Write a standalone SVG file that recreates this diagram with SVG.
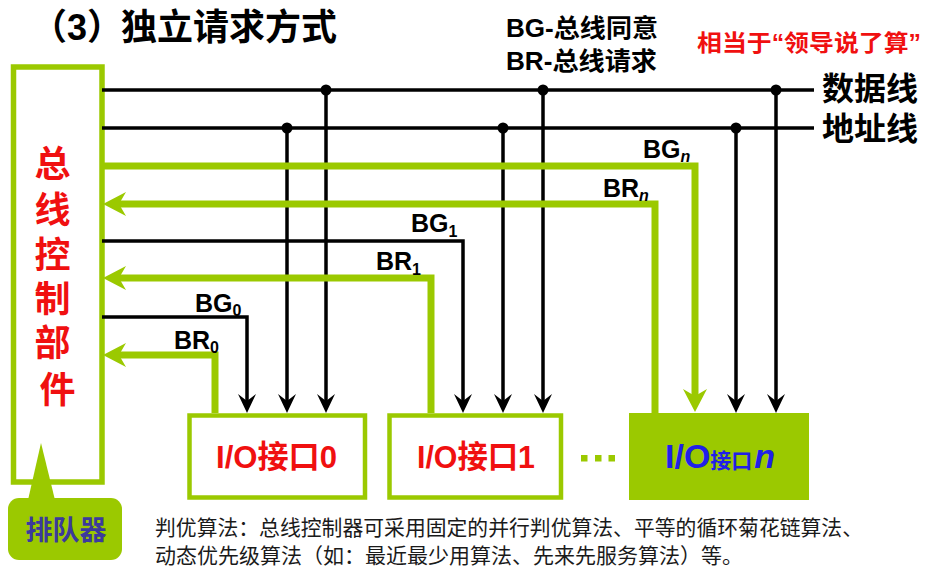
<svg xmlns="http://www.w3.org/2000/svg" width="928" height="577" viewBox="0 0 928 577">
  <style>
    text { font-family: "Liberation Sans", "Noto Sans CJK SC", sans-serif; }
    .b { font-weight: bold; }
    .blk { fill: #000; }
    .red { fill: #f01010; }
    .bus { stroke: #000; stroke-width: 3.5; fill: none; }
    .sig { stroke: #000; stroke-width: 3.5; fill: none; }
    .gsig { stroke: #9bc900; stroke-width: 7; fill: none; stroke-linejoin: miter; }
    .box { fill: #fff; stroke: #9bc900; stroke-width: 4.5; }
    .lbl { font-size: 25px; font-weight: bold; fill: #000; }
    .sub { font-size: 16px; font-weight: bold; }
    .io { font-size: 32px; font-weight: bold; fill: #f01010; }
  </style>
  <defs>
    <marker id="ah" markerUnits="userSpaceOnUse" markerWidth="30" markerHeight="30" viewBox="-15 -15 30 30" refX="0" refY="0" orient="auto">
      <path d="M10,0 L-9,-9 L-2,0 L-9,9 Z" fill="#000"/>
    </marker>
    <marker id="gh" markerUnits="userSpaceOnUse" markerWidth="40" markerHeight="40" viewBox="-20 -20 40 40" refX="0" refY="0" orient="auto">
      <path d="M10,0 L-13,-12 L-6,0 L-13,12 Z" fill="#9bc900"/>
    </marker>
  </defs>

  <!-- heading -->
  <text y="40" class="b" font-size="36" fill="#000"><tspan x="31">（3）</tspan><tspan x="121">独立请求方式</tspan></text>
  <text x="506" y="37" class="b" font-size="25" fill="#000" textLength="152" lengthAdjust="spacingAndGlyphs">BG-总线同意</text>
  <text x="506" y="70" class="b" font-size="25" fill="#000" textLength="151" lengthAdjust="spacingAndGlyphs">BR-总线请求</text>
  <text x="697" y="51" class="b" font-size="23" fill="#f01010" textLength="224" lengthAdjust="spacingAndGlyphs">相当于“领导说了算”</text>

  <!-- bus controller -->
  <g id="controller">
    <rect x="13.5" y="67" width="88.5" height="415" fill="#fff" stroke="#9bc900" stroke-width="5.5"/>
    <text class="b red" font-size="36" text-anchor="middle">
      <tspan x="57.5" y="177">总</tspan>
      <tspan x="57.5" y="223">线</tspan>
      <tspan x="57.5" y="268">控</tspan>
      <tspan x="57.5" y="312">制</tspan>
      <tspan x="57.5" y="356">部</tspan>
      <tspan x="57.5" y="403">件</tspan>
    </text>
  </g>

  <!-- queue callout -->
  <g id="queue">
    <path d="M41,443 L55,500 L28,500 Z" fill="#9bc900"/>
    <rect x="8" y="498" width="114" height="62" rx="11" fill="#9bc900"/>
    <text x="66" y="540" class="b" font-size="27" fill="#3c3a9c" text-anchor="middle">排队器</text>
  </g>

  <!-- connectors -->
  <g id="connectors">
    <!-- data and address bus -->
    <line class="bus" x1="102" y1="90" x2="814" y2="90"/>
    <line class="bus" x1="102" y1="128" x2="814" y2="128"/>
    <!-- bus taps down to the interfaces -->
    <line class="sig" x1="287" y1="128" x2="287" y2="403" marker-end="url(#ah)"/>
    <line class="sig" x1="326" y1="90" x2="326" y2="403" marker-end="url(#ah)"/>
    <line class="sig" x1="503" y1="128" x2="503" y2="403" marker-end="url(#ah)"/>
    <line class="sig" x1="543" y1="90" x2="543" y2="403" marker-end="url(#ah)"/>
    <line class="sig" x1="736" y1="128" x2="736" y2="403" marker-end="url(#ah)"/>
    <line class="sig" x1="776" y1="90" x2="776" y2="403" marker-end="url(#ah)"/>
    <g fill="#000">
      <circle cx="287" cy="128" r="5.5"/>
      <circle cx="326" cy="90" r="5.5"/>
      <circle cx="503" cy="128" r="5.5"/>
      <circle cx="543" cy="90" r="5.5"/>
      <circle cx="736" cy="128" r="5.5"/>
      <circle cx="776" cy="90" r="5.5"/>
    </g>
    <!-- grant / request lines -->
    <path class="gsig" d="M102,166 H695 V402" marker-end="url(#gh)"/>
    <path class="gsig" d="M655,413 V204 H113" marker-end="url(#gh)"/>
    <path class="sig" d="M102,241 H463 V403" marker-end="url(#ah)"/>
    <path class="gsig" d="M431,413 V278 H113" marker-end="url(#gh)"/>
    <path class="sig" d="M102,317 H247 V403" marker-end="url(#ah)"/>
    <path class="gsig" d="M215,413 V355 H113" marker-end="url(#gh)"/>
  </g>

  <!-- line labels -->
  <text x="822" y="100" class="b" font-size="32" fill="#000">数据线</text>
  <text x="822" y="140" class="b" font-size="32" fill="#000">地址线</text>
  <text x="643" y="158" class="lbl">BG<tspan class="sub" font-style="italic" dy="4">n</tspan></text>
  <text x="603" y="197" class="lbl">BR<tspan class="sub" font-style="italic" dy="4">n</tspan></text>
  <text x="411" y="232" class="lbl">BG<tspan class="sub" dy="5">1</tspan></text>
  <text x="376" y="270" class="lbl">BR<tspan class="sub" dy="5">1</tspan></text>
  <text x="195" y="312" class="lbl">BG<tspan class="sub" dy="4">0</tspan></text>
  <text x="174" y="349" class="lbl">BR<tspan class="sub" dy="4">0</tspan></text>

  <!-- I/O interfaces -->
  <g id="io0">
    <rect class="box" x="189.5" y="415.5" width="175.5" height="82"/>
    <text x="276.5" y="468" class="io" text-anchor="middle" textLength="121" lengthAdjust="spacingAndGlyphs">I/O接口0</text>
  </g>
  <g id="io1">
    <rect class="box" x="389.5" y="415.5" width="171.5" height="82"/>
    <text x="476" y="468" class="io" text-anchor="middle" textLength="118" lengthAdjust="spacingAndGlyphs">I/O接口1</text>
  </g>
  <g id="ellipsis" fill="#9bc900">
    <rect x="581" y="455" width="6.5" height="6.5"/>
    <rect x="595" y="455" width="6.5" height="6.5"/>
    <rect x="608.5" y="455" width="6.5" height="6.5"/>
  </g>
  <g id="ion">
    <rect x="629" y="413" width="180" height="87" fill="#9bc900"/>
    <text x="665" y="468" class="b" fill="#2020e8"><tspan font-size="34">I/O</tspan><tspan font-size="21">接口</tspan><tspan font-size="34" font-style="italic" dx="2">n</tspan></text>
  </g>

  <!-- note -->
  <text x="155" y="535" font-size="21" fill="#1a1a1a" textLength="708" lengthAdjust="spacingAndGlyphs">判优算法：总线控制器可采用固定的并行判优算法、平等的循环菊花链算法、</text>
  <text x="155" y="563" font-size="21" fill="#1a1a1a">动态优先级算法（如：最近最少用算法、先来先服务算法）等。</text>
</svg>
